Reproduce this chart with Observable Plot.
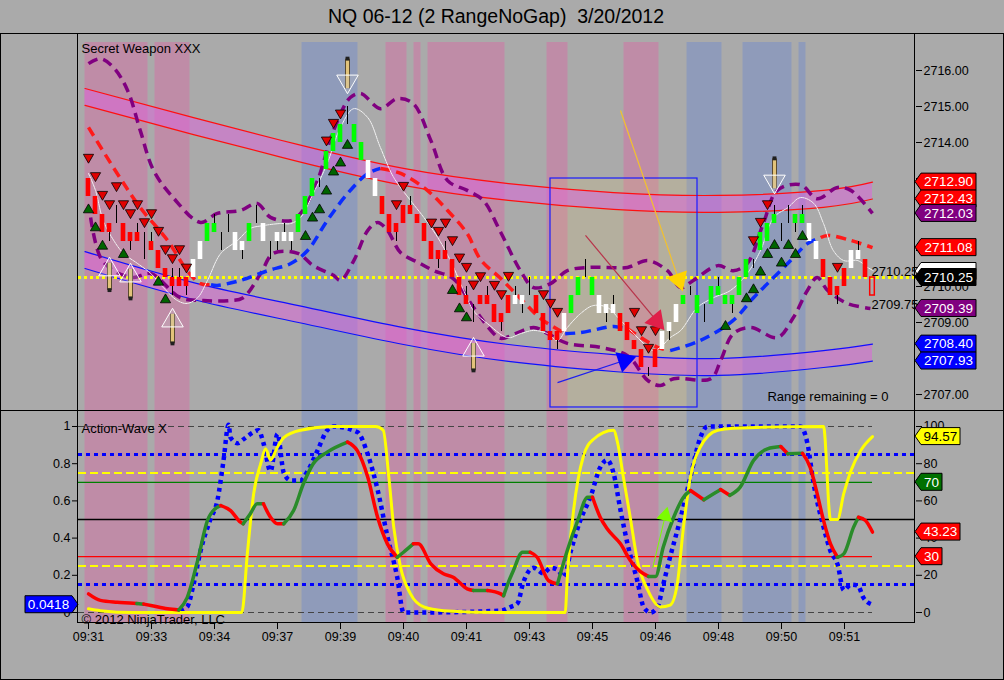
<!DOCTYPE html>
<html><head><meta charset="utf-8">
<script src="https://cdn.jsdelivr.net/npm/d3@7"></script>
<script src="https://cdn.jsdelivr.net/npm/@observablehq/plot@0.6"></script>
<style>
html,body{margin:0;padding:0;background:#aaaaaa;width:1004px;height:680px;overflow:hidden;font-family:"Liberation Sans",Arial,sans-serif;}
#title{position:absolute;left:0;top:4px;width:992px;text-align:center;font-size:19.5px;line-height:24px;color:#000;}
#frame{position:absolute;left:0;top:33px;width:1002px;height:645px;border:1px solid #000;}
#top{position:absolute;left:0;top:34px;}
#bot{position:absolute;left:0;top:410px;}
.ln{position:absolute;background:#000;}
</style></head><body>
<div id="title">NQ 06-12 (2 RangeNoGap)&nbsp; 3/20/2012</div>
<div id="frame"></div>
<div id="top"></div>
<div id="bot"></div>
<div class="ln" style="left:77px;top:34px;width:1px;height:589px"></div>
<div class="ln" style="left:914px;top:34px;width:1px;height:589px"></div>
<div class="ln" style="left:0px;top:410px;width:1003px;height:1px"></div>
<div class="ln" style="left:77px;top:622px;width:838px;height:1px"></div>
<script>
// ---------------- DATA ----------------
const timeLabels = ["09:31","09:33","09:34","09:37","09:39","09:40","09:41","09:43","09:45","09:46","09:48","09:50","09:51"];
const timeTickBars = [0,9,18,27,36,45,54,63,72,81,90,99,108];

// shaded regions (bar index ranges)
const bandStart = [-0.5, 9.5, 30.5, 42.5, 46.5, 48.5, 65.5, 76.5, 85.5, 93.5, 101.5];
const bandEnd   = [8.5, 14.5, 38.5, 45.5, 47.5, 59.5, 68.5, 81.5, 90.5, 100.5, 102.5];
const bandKind  = ["pink","pink","blue","pink","pink","pink","pink","pink","blue","blue","blue"];

// range bars: colour code, body low/high
const barColor = "rrrrkrrrkr"+"rrrrrwwggk"+"kwwgkwkwww"+"gggkgggkgg"+"wwrrrrrrrr"+"rrrrrkrrrr"+"rwwkrrrrwg"+"gkgwwwrrrr"+"krwwwgkgkg"+"gggggkgggk"+"kggwwrrrrw"+"wro";
const bodyLo = [2712.5,2712,2711.5,2711.5,2711.75,2711.25,2711.25,2711.25,2711.25,2711,
2710.5,2710.25,2710,2710,2710,2710.25,2710.75,2711.25,2711.5,2711.5,
2711.5,2711,2711,2711.25,2711.75,2711.25,2711.25,2711.25,2711.25,2711.25,
2711.5,2712,2712.5,2713,2713.25,2713.75,2714,2714.5,2714,2713.5,
2713,2712.5,2712,2711.5,2711.5,2711.75,2712,2711.75,2711.25,2710.75,
2710.75,2710.75,2710.25,2709.75,2709.5,2709.5,2709.5,2709.5,2709,2709,
2709.25,2709.5,2709.5,2709.75,2709.25,2708.75,2708.5,2708.5,2708.75,2709.25,
2709.75,2710.25,2709.75,2709.25,2709.25,2709.25,2708.75,2708.5,2708.25,2707.75,
2707.75,2707.75,2708.25,2708.75,2709,2709.5,2709.75,2709.25,2709.5,2709.5,
2709.75,2709.5,2709.5,2709.75,2710.25,2710.75,2711,2711.25,2711.75,2711.75,
2711.75,2711.75,2711.75,2711.25,2710.75,2710.25,2709.75,2709.75,2710,2710.5,
2710.75,2710.25,2709.75];
const bodyHi = [2713,2712.5,2712,2711.75,2711.75,2711.75,2711.5,2711.5,2711.25,2711.25,
2711,2710.5,2710.25,2710.25,2710.25,2710.75,2711.25,2711.75,2711.75,2711.5,
2711.5,2711.5,2711.25,2711.75,2711.75,2711.75,2711.25,2711.5,2711.5,2711.5,
2712,2712.5,2713,2713,2713.75,2714.25,2714.5,2714.5,2714.5,2714,
2713.5,2713,2712.5,2712,2711.75,2712.25,2712.25,2712,2711.75,2711.25,
2711,2711,2710.75,2710.25,2709.75,2709.5,2709.75,2709.75,2709.5,2709.25,
2709.75,2709.75,2709.75,2709.75,2709.75,2709.25,2708.75,2708.75,2709.25,2709.75,
2710.25,2710.25,2710.25,2709.75,2709.5,2709.5,2709.25,2709,2708.5,2708.25,
2707.75,2708.25,2708.75,2709,2709.5,2709.75,2709.75,2709.75,2709.5,2710,
2710,2709.75,2709.75,2710.25,2710.75,2710.75,2711.5,2711.75,2712,2711.75,
2711.75,2712,2712,2711.75,2711.25,2710.75,2710.25,2710,2710.5,2711,
2711,2710.75,2710.25];
// wicks beyond bodies
const wickBar  = [3,4,6,7,8,9,12,13,14,18,19,20,22,24,26,27,28,29,33,37,44,46,50,51,54,55,57,59,61,62,63,67,71,74,75,80,83,86,88,90,92,95,98,99,100,101,102,107,110];
const wickLow  = [2711.25,2711.75,2711,2711.25,2710.75,2711,2709.75,2710,2709.75,2711.5,2711,2711.5,2710.75,2711.75,2710.75,2711,2711.25,2711,2712.75,2714.5,2711.25,2712,2710.5,2710.75,2709.5,2709,2709.5,2708.75,2709.5,2709.25,2709.75,2708.25,2710.25,2709,2709.25,2707.5,2708.5,2709.75,2709,2709.75,2709.25,2710.5,2711.75,2711.25,2711.75,2711.5,2711.75,2709.5,2710.75];
const wickHigh = [2711.75,2712.25,2711.5,2711.75,2711.5,2711.5,2710.5,2710.5,2710.25,2712,2711.5,2712,2711.25,2712.25,2711.25,2711.5,2711.75,2711.5,2713,2715,2711.75,2712.5,2711,2711.25,2710,2709.5,2710,2709.25,2710,2709.75,2710.25,2708.75,2710.75,2709.5,2709.75,2707.75,2709,2710,2709.5,2710.25,2709.75,2710.75,2712.25,2711.75,2712.25,2712,2712.25,2710,2711.25];

// signal triangles
const downTriBar = [0,1,2,3,4,5,6,7,8,9,10,11,12,13,14,34,35,36,44,45,49,50,51,52,53,54,55,56,58,59,60,65,66,67,78,79,80,81,95,96,97,107];
const downTriVal = [2713.59,2713.08,2712.56,2712.3,2712.8,2712.3,2712.05,2712.3,2711.8,2712.05,2711.56,2711.05,2710.8,2711.05,2710.54,2714.07,2714.56,2714.82,2712.3,2712.81,2711.79,2711.56,2711.79,2711.3,2710.82,2710.56,2710.07,2710.3,2710.06,2709.8,2710.31,2709.8,2709.56,2709.31,2709.31,2708.8,2708.31,2708.8,2711.3,2711.81,2712.3,2710.56];
const upTriBar = [0,1,2,5,10,11,31,32,33,34,35,36,37,52,53,54,91,94,95,96,97,98,99,100,101,102];
const upTriVal = [2712.13,2711.63,2711.12,2710.89,2710.12,2709.63,2711.39,2711.9,2712.13,2712.65,2713.18,2713.43,2713.92,2709.89,2709.38,2709.13,2708.89,2709.66,2709.91,2710.4,2710.89,2711.14,2710.65,2711.14,2710.89,2711.39];

// pencil arrows
const pencilBar  = [3, 6, 12, 55, 37, 98];
const pencilTip  = [2710.81, 2710.64, 2709.39, 2708.58, 2715.36, 2712.58];
const pencilTail = [2709.9, 2709.67, 2708.42, 2707.67, 2716.33, 2713.56];

// regression channels
const chBar       = [-0.5, 15, 30, 45, 60, 75, 90, 105, 112];
const redUpper    = [2715.5, 2714.69, 2713.94, 2713.28, 2712.86, 2712.61, 2712.53, 2712.67, 2712.90];
const redLower    = [2715.03, 2714.22, 2713.47, 2712.81, 2712.39, 2712.14, 2712.06, 2712.2, 2712.43];
const blueUpper   = [2710.97, 2710.11, 2709.47, 2708.86, 2708.39, 2708.11, 2708.0, 2708.22, 2708.40];
const blueLower   = [2710.5, 2709.64, 2709.0, 2708.39, 2707.92, 2707.64, 2707.53, 2707.75, 2707.93];

// purple envelopes
const pUpBar = [0,1.7,3.6,5.6,7.4,9.3,12.1,16,18.4,21.7,24.1,26,28.9,30.3,32.7,35,37.4,38.9,41.7,44.1,46.4,48.9,51.3,54.1,56.4,58.9,61.7,63.6,66,68.4,71.3,74.1,77,79.9,82.7,84.6,86.4,89.9,92.1,94.1,96.4,98.4,101.7,104.1,107,108.9,112];
const pUpVal = [2716.19,2716.33,2716.08,2715.44,2714.33,2713.22,2712.47,2711.78,2712.03,2712.11,2712.31,2711.92,2711.83,2712.03,2712.94,2714.33,2715.25,2715.36,2714.94,2715.22,2715.08,2714.06,2712.94,2712.67,2712.39,2711.5,2710.44,2709.97,2710.08,2710.44,2710.53,2710.53,2710.53,2710.72,2710.44,2709.97,2710.17,2710.58,2710.44,2710.64,2711.75,2712.67,2712.83,2712.44,2712.75,2712.67,2712.03];
const pLoBar = [0.3,1.7,3.6,6.4,8.9,13.1,16.4,20.3,22.1,24.6,26.4,29.9,32.1,35,36,37.9,39.9,41.3,42.7,44.6,47.4,49.3,52.1,55,57.9,58.9,63.6,65.6,68.4,73.1,77,79.9,81.7,83.6,88.9,90.3,92.1,94.6,98.4,100.7,102.7,104.1,105.6,108.4,111.7];
const pLoVal = [2711.92,2710.81,2710.44,2710.25,2710.36,2709.69,2709.61,2709.61,2709.69,2710.36,2710.92,2710.92,2710.58,2710.31,2710.17,2710.72,2711.56,2711.78,2711.56,2710.94,2710.64,2710.44,2710.22,2709.42,2708.69,2708.56,2708.86,2708.69,2708.42,2708.31,2708.08,2707.39,2707.25,2707.44,2707.44,2707.94,2708.69,2708.86,2708.58,2709.14,2709.89,2710.25,2709.89,2709.53,2709.39];

// red/blue trend average
const maBar = [0,4.1,7.4,11.3,14.1,16,17.5,18.4,21.7,25.6,28.9,31.3,34.1,37,39.9,41.7,44.6,48.4,51.3,54.1,56,58.9,61.7,64.6,68.1,70.3,75,76,77,81.3,83.1,87.4,92.1,95,97,100.3,102.7,104.6,105.6,108.9,112];
const maVal = [2714.42,2713.14,2712.19,2711.28,2710.44,2710.08,2710.05,2710.03,2710.17,2710.44,2710.64,2711.0,2711.83,2712.58,2713.14,2713.28,2713.14,2712.67,2712.11,2711.47,2710.75,2710.22,2709.67,2709.11,2708.69,2708.72,2708.89,2708.86,2708.83,2708.31,2708.22,2708.5,2709.06,2709.69,2710.08,2710.72,2711.19,2711.36,2711.42,2711.28,2711.08];
const maDir = "rrrrrr"+"bbbbbbbbb"+"rrrrrrrrr"+"bbbb"+"rr"+"bbbbbbb"+"rrrr";

// thin white average
const wBar = [0,1,2.1,3.6,5,7,8.9,10.7,12.7,14.1,15.6,17,18.9,21.3,23.1,24.9,27.4,28.9,30.3,32.1,34.1,36,37.9,39.9,41.7,43.6,46,47.9,49.9,51.7,53.6,55,57,59.9,61.7,63.6,65.6,67,68.4,70.3,72.1,74.1,76,77.9,79.9,80.7,81.7,83.1,84.6,87,89.3,91.7,94.1,96,97.9,99.9,101.7,103.6,105,106.4,107.9,109.9,111.3,112.1];
const wVal = [2713.14,2712.67,2711.83,2711.28,2710.92,2710.64,2710.36,2709.97,2709.61,2709.53,2709.69,2710.17,2710.92,2711.28,2711.61,2711.69,2711.75,2711.75,2711.92,2712.58,2713.42,2714.42,2714.94,2714.69,2713.86,2713.03,2712.39,2711.92,2711.36,2710.72,2709.89,2709.33,2708.97,2708.58,2708.69,2708.78,2708.69,2708.5,2708.86,2709.25,2709.47,2709.42,2709.06,2708.69,2708.31,2708.22,2708.31,2708.58,2708.78,2709.42,2709.69,2709.89,2710.36,2711.0,2711.92,2712.19,2712.47,2712.31,2711.75,2711.0,2710.72,2710.72,2710.53,2710.44];

// drawn annotations
const annoX1 = [76, 71, 67], annoY1 = [2714.89, 2711.42, 2707.33];
const annoX2 = [84.6, 81.7, 77.4], annoY2 = [2710.03, 2708.92, 2708.0];
const annoLine = ["#f2c12e", "#b8334a", "#1e1ef0"], annoHead = ["#ffd400", "#e0204a", "#0000ff"];
const boxBar = [66, 87], boxTop = 2713.0, boxBottom = 2706.64;
const refPrice = 2710.25;

// right-hand price axis and tags
const priceTicks = [2707, 2708, 2709, 2710, 2711, 2712, 2713, 2714, 2715, 2716];
const priceTicksCovered = [2708, 2711, 2712, 2713];
const topTagVals = [2712.90, 2712.43, 2712.03, 2711.08, 2710.25, 2709.39, 2708.40, 2707.93];
const topTagFill = ["#ff0000","#ff0000","#800080","#ff0000","#000000","#800080","#0000ff","#0000ff"];

// ---- lower panel (Action-Wave X) ----
const yellowBar = [0,1.7,6.4,21.9,22.7,23.6,24.6,25.3,26,27,27.9,30.3,35,41,42.1,42.9,43.6,44.6,46,47.9,50.7,58.9,68.1,68.4,69.3,70.7,72.1,75,75.6,76.4,77.4,78.4,79.9,81.7,83.1,84.1,85,86,87.4,89.9,92.1,105,106,107,107.9,108.9,110.3,112];
const yellowVal = [0.02,0.01,0,0,0.32,0.64,0.80,0.88,0.82,0.89,0.94,0.98,1,1,0.98,0.73,0.46,0.24,0.10,0.03,0.01,0,0,0.19,0.55,0.84,0.93,0.98,0.91,0.73,0.51,0.28,0.12,0.03,0.04,0.15,0.46,0.73,0.89,0.98,0.99,1,0.5,0.5,0.64,0.76,0.87,0.9457];
const blueBar = [13.1,14.1,15,16,17.4,18.4,19.3,20,20.3,21.3,22.1,23.6,24.3,25,26,27,27.9,28.9,30.3,31.3,32.7,34.1,35,38.4,39.9,41.3,42.7,44.1,45,47.4,58.9,60.3,61.3,62.1,63.6,65,66,67,67.9,68.9,70.3,71.7,73.1,74.1,75,76,77,78.4,79.3,80.3,81.3,82.1,83.1,84.6,86,87.4,88.4,101.7,102.7,103.6,105,106,107,107.9,108.9,109.9,110.7,112];
const blueVal = [0.01,0.03,0.15,0.33,0.50,0.60,0.82,1.01,0.94,0.91,0.93,0.97,0.98,0.91,0.76,0.96,0.75,0.71,0.71,0.76,0.87,0.98,1.0,0.97,0.85,0.66,0.41,0.19,0,0,0.01,0.03,0.05,0.16,0.24,0.21,0.24,0.23,0.19,0.33,0.50,0.62,0.78,0.82,0.75,0.55,0.37,0.17,0.03,0,0.03,0.15,0.30,0.51,0.73,0.94,1.0,1.0,0.91,0.69,0.46,0.33,0.26,0.12,0.15,0.145,0.08,0.0418];
const rgBar = [0,1.7,4.1,6.4,6.9,7.9,8.9,11.3,12.9,14.1,15.6,17,18.4,18.9,20.3,21.7,22.1,23.1,24.1,25,26,27,27.9,29.3,30.7,32.1,34.1,37,38.4,39.9,41.3,42.7,44.1,45,46.4,47.1,48.9,50.7,52.1,54.1,55,57,58.9,59.3,59.9,60.7,62,63.1,64.1,65.7,67,68.4,69.9,71.3,72,73.1,74.1,76,77.4,79.3,80,81,82.1,83.6,85,86,87.9,89.3,90.3,91.6,93.1,95,97,98.9,99.9,102,103.1,104.1,105,106,107,107.9,109.3,110,111,112];
const rgVal = [0.10,0.065,0.055,0.05,0.048,0.045,0.038,0.02,0.014,0.08,0.28,0.495,0.566,0.575,0.548,0.486,0.477,0.53,0.584,0.584,0.512,0.477,0.477,0.548,0.692,0.80,0.862,0.916,0.87,0.727,0.512,0.369,0.297,0.324,0.369,0.369,0.262,0.208,0.19,0.127,0.118,0.118,0.10,0.09,0.154,0.226,0.324,0.324,0.297,0.172,0.154,0.333,0.495,0.62,0.62,0.512,0.45,0.369,0.28,0.208,0.194,0.194,0.351,0.512,0.62,0.656,0.606,0.638,0.661,0.63,0.674,0.817,0.88,0.892,0.853,0.856,0.78,0.638,0.495,0.369,0.297,0.315,0.459,0.512,0.495,0.4323];
const rgDir = "rrrrg"+"rrrgg"+"gggrr"+"rgggr"+"rrggg"+"ggrrr"+"rrggr"+"rrrrr"+"grrgg"+"ggrrr"+"ggggr"+"rrrrr"+"ggggg"+"rggrg"+"gggrg"+"rrrrr"+"gggrr"+"r";
const levelVals   = [0.85, 0.75, 0.7, 0.5, 0.3, 0.25, 0.15];
const levelColors = ["#0000ff","#ffff00","#008000","#000000","#ff0000","#ffff00","#0000ff"];
const levelDash   = ["4,4","8,4",null,null,null,"8,4","4,4"];
const levelWidth  = [3, 2, 1.3, 1.3, 1.3, 2, 3];
const levelEnd    = [118, 118, 112, 118, 112, 118, 118];
const waveTicks   = [0, 0.2, 0.4, 0.6, 0.8, 1];
const greenArrow  = [80.6, 0.24, 82.4, 0.52];
const botTagVals  = [0.9457, 0.70, 0.4323, 0.30];
const botTagText  = ["94.57", "70", "43.23", "30"];
const botTagFill  = ["#ffff00", "#007000", "#ff0000", "#ff0000"];
const botTagInk   = ["#000", "#fff", "#fff", "#fff"];
const leftTagVal  = 0.0418;

// ---------------- BUILD ----------------
const FONT = "'Liberation Sans', Arial, Helvetica, sans-serif";
const X_DOMAIN = [-10/7, 827/7];
const TOP_Y = [2706.556, 2716.778];
const BOT_Y = [-0.0591, 1.0806];
const KX = 837 / (X_DOMAIN[1] - X_DOMAIN[0]);
const KY_TOP = 368 / (TOP_Y[1] - TOP_Y[0]);
const KY_BOT = 212 / (BOT_Y[1] - BOT_Y[0]);
const style = {background: "transparent", color: "#000", fontFamily: FONT, fontSize: "12.5px", overflow: "visible"};
const dashed = {strokeLinecap: "butt", strokeLinejoin: "round"};

const bands = bandStart.map((a, i) => ({a, b: bandEnd[i], fill: bandKind[i] === "pink" ? "#bf8ca7" : "#8f9bba"}));
const bars = barColor.split("").map((c, i) => ({i, c, lo: bodyLo[i], hi: bodyHi[i]}));
const candleFill = {r: "#ff0000", g: "#00ff00", w: "#ffffff", o: "none"};
const bodies = bars.filter(d => d.c !== "k");
const wicks = wickBar.map((i, k) => ({i, lo: wickLow[k], hi: wickHigh[k]}));
const downTris = downTriBar.map((x, k) => ({x, y: downTriVal[k]}));
const upTris = upTriBar.map((x, k) => ({x, y: upTriVal[k]}));
const pencils = pencilBar.map((x, k) => ({x, tip: pencilTip[k], tail: pencilTail[k], up: pencilTip[k] > pencilTail[k]}));
const ch = chBar.map((x, k) => ({x, ru: redUpper[k], rl: redLower[k], bu: blueUpper[k], bl: blueLower[k]}));
const pup = pUpBar.map((x, k) => ({x, y: pUpVal[k]}));
const plo = pLoBar.map((x, k) => ({x, y: pLoVal[k]}));
const white = wBar.map((x, k) => ({x, y: wVal[k]}));

function segments(xs, ys, dirs, colors) {
  const rows = []; let seg = 0;
  for (let i = 0; i < xs.length; i++) {
    if (i > 0 && dirs[i] !== dirs[i - 1]) { rows.push({x: xs[i], y: ys[i], seg, c: colors[dirs[i - 1]]}); seg++; }
    rows.push({x: xs[i], y: ys[i], seg, c: colors[dirs[i]]});
  }
  return rows;
}
const maRows = segments(maBar, maVal, maDir, {r: "#ff1a1a", b: "#0a2cff"});
const rgRows = segments(rgBar, rgVal, rgDir, {r: "#ff0000", g: "#2a8c2a"});

function head(x1, y1, x2, y2, ky, back) {
  const dx = (x2 - x1) * KX, dy = (y2 - y1) * ky, len = Math.hypot(dx, dy);
  return {x: x2 - dx / len * back / KX, y: y2 - dy / len * back / ky, rot: Math.atan2(dx, dy) * 180 / Math.PI};
}
const annos = annoX1.map((x1, k) => ({x1, y1: annoY1[k], x2: annoX2[k], y2: annoY2[k], line: annoLine[k], fill: annoHead[k],
  ...head(x1, annoY1[k], annoX2[k], annoY2[k], KY_TOP, 6)}));

const topChart = Plot.plot({
  width: 1004, height: 376, marginLeft: 78, marginRight: 89, marginTop: 8, marginBottom: 0,
  style,
  x: {domain: X_DOMAIN, axis: null},
  y: {domain: TOP_Y, label: null},
  color: {type: "identity"},
  marks: [
    Plot.rect(bands, {x1: "a", x2: "b", y1: () => TOP_Y[0], y2: () => TOP_Y[1], fill: "fill"}),
    Plot.rect([0], {x1: () => boxBar[0], x2: () => boxBar[1], y1: () => boxBottom, y2: () => boxTop, fill: "#f0d060", fillOpacity: 0.15}),
    Plot.areaY(ch, {x: "x", y1: "rl", y2: "ru", curve: "natural", fill: "#e060de", fillOpacity: 0.5}),
    Plot.areaY(ch, {x: "x", y1: "bl", y2: "bu", curve: "natural", fill: "#e060de", fillOpacity: 0.5}),
    Plot.line(ch, {x: "x", y: "ru", curve: "natural", stroke: "#ff1010", strokeWidth: 1.2}),
    Plot.line(ch, {x: "x", y: "rl", curve: "natural", stroke: "#ff1010", strokeWidth: 1.2}),
    Plot.line(ch, {x: "x", y: "bu", curve: "natural", stroke: "#1010ff", strokeWidth: 1.2}),
    Plot.line(ch, {x: "x", y: "bl", curve: "natural", stroke: "#1010ff", strokeWidth: 1.2}),
    Plot.rect([0], {x1: () => boxBar[0], x2: () => boxBar[1], y1: () => boxBottom, y2: () => boxTop, fill: "none", stroke: "#1a1aff", strokeWidth: 1.2}),
    Plot.ruleY([refPrice], {stroke: "#ffff00", strokeWidth: 3, strokeDasharray: "3,3", ...dashed}),
    Plot.line(pup, {x: "x", y: "y", curve: "catmull-rom", stroke: "#800080", strokeWidth: 3.5, strokeDasharray: "10,6", ...dashed}),
    Plot.line(plo, {x: "x", y: "y", curve: "catmull-rom", stroke: "#800080", strokeWidth: 3.5, strokeDasharray: "10,6", ...dashed}),
    Plot.line(maRows, {x: "x", y: "y", z: "seg", stroke: "c", curve: "catmull-rom", strokeWidth: 3.5, strokeDasharray: "10,6", ...dashed}),
    Plot.line(white, {x: "x", y: "y", curve: "catmull-rom", stroke: "#f4f4f4", strokeWidth: 1, strokeDasharray: "3,1"}),
    Plot.ruleX(wicks, {x: "i", y1: "lo", y2: "hi", stroke: "#000", strokeWidth: 1}),
    Plot.rect(bodies, {x1: d => d.i - 0.33, x2: d => d.i + 0.33, y1: "lo", y2: "hi",
      fill: d => candleFill[d.c], stroke: d => d.c === "o" ? "#ff0000" : "none", strokeWidth: 1.5}),
    Plot.dot(downTris, {x: "x", y: "y", symbol: "triangle", rotate: 180, r: 3.8, fill: "#e00000", stroke: "#000", strokeWidth: 0.8}),
    Plot.dot(upTris, {x: "x", y: "y", symbol: "triangle", r: 3.8, fill: "#006400", stroke: "#000", strokeWidth: 0.8}),
    // pencil arrows
    Plot.link(pencils, {x1: "x", x2: "x", y1: "tail", y2: d => d.tip + (d.up ? -0.15 : 0.15), stroke: "#5a4a30", strokeWidth: 5}),
    Plot.link(pencils, {x1: "x", x2: "x", y1: "tail", y2: d => d.tip + (d.up ? -0.15 : 0.15), stroke: "#e2c37a", strokeWidth: 3}),
    Plot.dot(pencils, {x: "x", y: "tail", symbol: "square", r: 2.2, fill: "#202020"}),
    Plot.dot(pencils, {x: "x", y: d => d.tip + (d.up ? -0.34 : 0.34), symbol: "triangle", rotate: d => d.up ? 0 : 180, r: 8,
      fill: "#c8c8c8", fillOpacity: 0.25, stroke: "#ffffff", strokeWidth: 1}),
    // hand-drawn annotation arrows
    Plot.link(annos, {x1: "x1", y1: "y1", x2: "x2", y2: "y2", stroke: "line", strokeWidth: 1.2}),
    Plot.dot(annos, {x: "x", y: "y", symbol: "triangle", rotate: "rot", r: 7, fill: "fill", stroke: "fill"}),
    // texts
    Plot.text(["Secret Weapon XXX"], {frameAnchor: "top-left", text: d => d, dx: 3, dy: 1, fontSize: 13}),
    Plot.text(["Range remaining = 0"], {frameAnchor: "bottom-right", text: d => d, dx: -27, dy: -10, fontSize: 13, textAnchor: "end", lineAnchor: "bottom"}),
    Plot.text([{x: 111.85, y: 2710.42, t: "2710.25"}, {x: 111.85, y: 2709.5, t: "2709.75"}], {x: "x", y: "y", text: "t", textAnchor: "start", fontSize: 13}),
    Plot.axisY({anchor: "right", ticks: priceTicks, tickFormat: d => priceTicksCovered.includes(d) ? "" : d.toFixed(2), tickSize: 6, tickPadding: 2, label: null})
  ]
});
document.getElementById("top").appendChild(topChart);

const levels = levelVals.map((v, k) => ({v, c: levelColors[k], dash: levelDash[k], w: levelWidth[k], end: levelEnd[k]}));
const yellow = yellowBar.map((x, k) => ({x, y: yellowVal[k]}));
const blueS = blueBar.map((x, k) => ({x, y: blueVal[k]}));
const ga = {x1: greenArrow[0], y1: greenArrow[1], x2: greenArrow[2], y2: greenArrow[3], ...head(greenArrow[0], greenArrow[1], greenArrow[2], greenArrow[3], KY_BOT, 0)};

const botChart = Plot.plot({
  width: 1004, height: 268, marginLeft: 78, marginRight: 89, marginTop: 1, marginBottom: 55,
  style,
  x: {domain: X_DOMAIN, label: null},
  y: {domain: BOT_Y, label: null},
  color: {type: "identity"},
  marks: [
    Plot.rect(bands, {x1: "a", x2: "b", y1: () => BOT_Y[0], y2: () => BOT_Y[1], fill: "fill"}),
    Plot.ruleY([0, 1], {x1: () => X_DOMAIN[0], x2: () => 112, stroke: "#444", strokeWidth: 1, strokeDasharray: "6,4", ...dashed}),
    ...levels.map(l => Plot.ruleY([l.v], {x1: () => X_DOMAIN[0], x2: () => l.end, stroke: l.c, strokeWidth: l.w,
      strokeDasharray: l.dash || undefined, ...dashed})),
    Plot.line(blueS, {x: "x", y: "y", curve: "monotone-x", stroke: "#0000ff", strokeWidth: 4.5, strokeDasharray: "4,4", ...dashed}),
    Plot.line(yellow, {x: "x", y: "y", curve: "monotone-x", stroke: "#ffff00", strokeWidth: 3}),
    Plot.line(rgRows, {x: "x", y: "y", z: "seg", stroke: "c", curve: "monotone-x", strokeWidth: 3.5}),
    Plot.link([ga], {x1: "x1", y1: "y1", x2: "x2", y2: "y2", stroke: "#7cfc00", strokeWidth: 1}),
    Plot.dot([ga], {x: "x", y: "y", symbol: "triangle", rotate: "rot", r: 6, fill: "#7cfc00"}),
    Plot.text(["Action-Wave X"], {frameAnchor: "top-left", text: d => d, dx: 3, dy: 12, fontSize: 13}),
    Plot.text(["© 2012 NinjaTrader, LLC"], {frameAnchor: "bottom-left", text: d => d, dx: 3, dy: 0, fontSize: 13, lineAnchor: "bottom"}),
    Plot.axisY({anchor: "left", ticks: waveTicks, tickFormat: d => String(+d.toFixed(1)), tickSize: 6, tickPadding: 2, label: null}),
    Plot.axisY({anchor: "right", ticks: waveTicks, tickFormat: d => String(Math.round(d * 100)), tickSize: 6, tickPadding: 2, label: null}),
    Plot.axisX({anchor: "bottom", ticks: timeTickBars, tickFormat: d => timeLabels[timeTickBars.indexOf(d)], tickSize: 6, tickPadding: 3, label: null})
  ]
});
document.getElementById("bot").appendChild(botChart);

// price tags drawn at positions given by the charts' own y scales
function tag(g, y, side, w, fill, ink, text) {
  const h = 8.5;
  let pts, cx;
  if (side === "left") { pts = [[78, y], [72, y - h], [72 - w, y - h], [72 - w, y + h], [72, y + h]]; cx = 72 - w / 2; }
  else { pts = [[915, y], [921, y - h], [921 + w, y - h], [921 + w, y + h], [921, y + h]]; cx = 921 + w / 2; }
  g.append("polygon").attr("points", pts.map(p => p.join(",")).join(" ")).attr("fill", fill).attr("stroke", "#000").attr("stroke-width", 1);
  if (text) g.append("text").attr("x", cx).attr("y", y).attr("dy", "0.36em").attr("text-anchor", "middle").attr("fill", ink).text(text);
}
{
  const ys = topChart.scale("y");
  const g = d3.select(topChart).append("g").attr("font-family", FONT).attr("font-size", "13.5px");
  tag(g, ys.apply(refPrice) - 6, "right", 55, "#ffffff", "#000", "");
  topTagVals.forEach((v, k) => tag(g, ys.apply(v), "right", 55, topTagFill[k], "#fff", v.toFixed(2)));
}
{
  const ys = botChart.scale("y");
  const g = d3.select(botChart).append("g").attr("font-family", FONT).attr("font-size", "13.5px");
  botTagVals.forEach((v, k) => tag(g, ys.apply(v), "right", botTagText[k].length > 2 ? 39 : 21, botTagFill[k], botTagInk[k], botTagText[k]));
  tag(g, ys.apply(leftTagVal), "left", 47, "#0000ff", "#fff", String(leftTagVal));
}
</script>
</body></html>
